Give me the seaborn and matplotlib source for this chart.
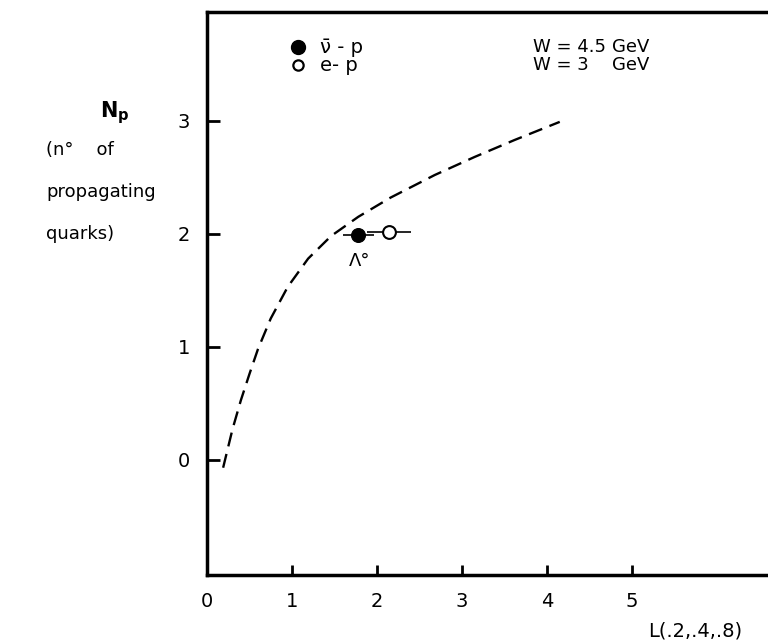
import matplotlib
matplotlib.use("Agg")
import matplotlib.pyplot as plt
import seaborn as sns
import pandas as pd

# Dashed curve
curve_L = [0.19, 0.30, 0.40, 0.50, 0.60, 0.75, 0.95, 1.19, 1.46, 1.78, 2.16, 2.68, 3.15, 3.62, 4.15]
curve_N = [-0.07, 0.27, 0.53, 0.76, 0.98, 1.25, 1.53, 1.78, 1.98, 2.15, 2.32, 2.52, 2.68, 2.83, 2.99]

# Data points
series = ["ν̄-p", "e-p"]
point_L = [1.78, 2.14]
point_N = [1.99, 2.02]
point_Lerr = [0.18, 0.26]

x_ticks = [0, 1, 2, 3, 4, 5]
y_ticks = [0, 1, 2, 3]

sns.set_style("ticks")
plt.rcParams['font.family'] = ['DejaVu Sans']
plt.rcParams['text.color'] = 'black'
plt.rcParams['xtick.color'] = 'black'
plt.rcParams['ytick.color'] = 'black'

fig = plt.figure(figsize=(7.68, 6.44), dpi=100)
ax = fig.add_axes([0.2695, 0.107, 0.7305, 0.874])

df_curve = pd.DataFrame({"L": curve_L, "N": curve_N})
sns.lineplot(data=df_curve, x="L", y="N", ax=ax, color="black", lw=1.7,
             linestyle=(0, (6, 3.3)), sort=False)

# error bars
for i in range(2):
    ax.errorbar(point_L[i], point_N[i], xerr=point_Lerr[i], fmt="none",
                ecolor="black", elinewidth=1.2, capsize=0, zorder=3)

df_pts = pd.DataFrame({"L": point_L, "N": point_N, "s": series})
sns.scatterplot(data=df_pts[df_pts.s == series[0]], x="L", y="N", ax=ax,
                color="black", edgecolor="black", s=100, zorder=4, legend=False)
sns.scatterplot(data=df_pts[df_pts.s == series[1]], x="L", y="N", ax=ax,
                facecolor="white", edgecolor="black", linewidth=1.5, s=85,
                zorder=4, legend=False)

ax.text(1.80, 1.76, "Λ°", fontsize=13, ha="center", va="center")

# legend-like text
ax.scatter([1.07], [3.65], s=100, color="black", zorder=5)
ax.scatter([1.07], [3.49], s=55, facecolor="white", edgecolor="black", linewidth=1.6, zorder=5)
ax.text(1.33, 3.65, "ν̄ - p", fontsize=14, va="center", ha="left")
ax.text(1.33, 3.49, "e- p", fontsize=14, va="center", ha="left")
ax.text(3.84, 3.65, "W = 4.5", fontsize=13, va="center", ha="left")
ax.text(4.76, 3.65, "GeV", fontsize=13, va="center", ha="left")
ax.text(3.84, 3.49, "W = 3", fontsize=13, va="center", ha="left")
ax.text(4.76, 3.49, "GeV", fontsize=13, va="center", ha="left")

ax.set_xlim(0, 6.6)
ax.set_ylim(-1.02, 3.96)
ax.set_xticks(x_ticks)
ax.set_yticks(y_ticks)
ax.set_xticklabels([str(t) for t in x_ticks], fontsize=14)
ax.set_yticklabels([str(t) for t in y_ticks], fontsize=14)
ax.tick_params(axis="x", direction="in", length=7, width=2, pad=12)
ax.tick_params(axis="y", direction="in", length=9, width=2, pad=12)
ax.set_xlabel("")
ax.set_ylabel("")

for s in ["left", "bottom", "top"]:
    ax.spines[s].set_linewidth(2.5)
    ax.spines[s].set_color("black")
ax.spines["right"].set_visible(False)

fig.text(742 / 768, 1 - 631 / 644, "L(.2,.4,.8)", fontsize=14, ha="right", va="center")

fig.text(100 / 768, 1 - 113 / 644, r"N$_\mathregular{p}$", fontsize=15, ha="left", va="center", fontweight="bold")
fig.text(46 / 768, 1 - 150 / 644, "(n°    of", fontsize=13, ha="left", va="center")
fig.text(46 / 768, 1 - 192 / 644, "propagating", fontsize=13, ha="left", va="center")
fig.text(46 / 768, 1 - 234 / 644, "quarks)", fontsize=13, ha="left", va="center")

fig.savefig("out.png", dpi=100)
